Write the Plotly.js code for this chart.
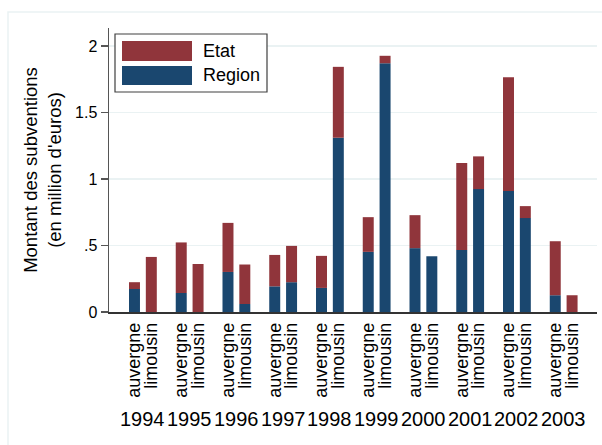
<!DOCTYPE html>
<html>
<head>
<meta charset="utf-8">
<script src="https://cdn.plot.ly/plotly-3.0.1.min.js"></script>
<style>html,body{margin:0;padding:0;background:#fff;}#chart{width:602px;height:445px;}</style>
</head>
<body>
<div id="chart"></div>
<script>
// ---- data (millions of euros) ----
const years = [1994, 1995, 1996, 1997, 1998, 1999, 2000, 2001, 2002, 2003];
const regions = ["auvergne", "limousin"];
const auvergneRegion = [0.173, 0.143, 0.301, 0.193, 0.181, 0.452, 0.480, 0.467, 0.909, 0.126];
const auvergneEtat   = [0.051, 0.380, 0.369, 0.236, 0.241, 0.261, 0.248, 0.653, 0.856, 0.406];
const limousinRegion = [0.000, 0.000, 0.060, 0.224, 1.310, 1.870, 0.419, 0.924, 0.706, 0.000];
const limousinEtat   = [0.414, 0.361, 0.297, 0.273, 0.533, 0.056, 0.000, 0.246, 0.090, 0.126];
const seriesNames = ["Etat", "Region"];

// ---- style ----
const COL_ETAT = "#90353b";
const COL_REGION = "#1a476f";
const FONT = "Arial, Liberation Sans, sans-serif";
const W = 602, H = 445;
const L = 109, R = 597, T = 28, B = 312;
const HALF = 0.18, BW = 0.235;
const px = x => (x - L) / (R - L);
const py = y => (B - y) / (B - T);

function barTrace(y, base, color, off, name) {
  const t = {
    type: "bar", x: years, y: y, name: name,
    marker: {color: color, line: {width: 0}},
    offset: off, width: BW, showlegend: false, hoverinfo: "skip"
  };
  if (base) t.base = base;
  return t;
}

const data = [
  barTrace(auvergneRegion, null, COL_REGION, -HALF - BW / 2, seriesNames[1]),
  barTrace(auvergneEtat, auvergneRegion, COL_ETAT, -HALF - BW / 2, seriesNames[0]),
  barTrace(limousinRegion, null, COL_REGION, HALF - BW / 2, seriesNames[1]),
  barTrace(limousinEtat, limousinRegion, COL_ETAT, HALF - BW / 2, seriesNames[0])
];

const tickvals = [], ticktext = [];
years.forEach(y => { tickvals.push(y - HALF, y + HALF); ticktext.push(regions[0], regions[1]); });

const annotations = years.map(y => ({
  x: y, xref: "x", y: py(419), yref: "paper", text: String(y), showarrow: false,
  xanchor: "center", yanchor: "middle", font: {family: FONT, size: 20, color: "#000"}
}));
annotations.push(
  {x: px(201), y: py(51), xref: "paper", yref: "paper", text: seriesNames[0], showarrow: false,
   xanchor: "left", yanchor: "middle", font: {family: FONT, size: 18, color: "#000"}},
  {x: px(201), y: py(75), xref: "paper", yref: "paper", text: seriesNames[1], showarrow: false,
   xanchor: "left", yanchor: "middle", font: {family: FONT, size: 18, color: "#000"}}
);

const shapes = [
  {type: "rect", xref: "paper", yref: "paper", x0: px(8), x1: px(620), y0: py(12), y1: py(470),
   line: {color: "#eaf2f3", width: 1.5}, fillcolor: "rgba(0,0,0,0)", layer: "below"},
  {type: "rect", xref: "paper", yref: "paper", x0: px(115), x1: px(267), y0: py(34), y1: py(92),
   line: {color: "#404040", width: 1.2}, fillcolor: "#ffffff"},
  {type: "rect", xref: "paper", yref: "paper", x0: px(122), x1: px(192), y0: py(41), y1: py(61),
   line: {width: 0}, fillcolor: COL_ETAT},
  {type: "rect", xref: "paper", yref: "paper", x0: px(122), x1: px(192), y0: py(66), y1: py(85),
   line: {width: 0}, fillcolor: COL_REGION}
];

const layout = {
  width: W, height: H,
  margin: {l: L, r: W - R, t: T, b: H - B, pad: 0},
  paper_bgcolor: "#ffffff", plot_bgcolor: "#ffffff",
  barmode: "overlay",
  showlegend: false,
  font: {family: FONT, color: "#000"},
  xaxis: {
    range: [1993.275, 2003.713], tickmode: "array", tickvals: tickvals, ticktext: ticktext,
    tickangle: -90, tickfont: {family: FONT, size: 18, color: "#000"},
    ticks: "outside", ticklen: 2, tickcolor: "rgba(0,0,0,0)",
    showline: true, linecolor: "#333333", linewidth: 1.5, showgrid: false, zeroline: false,
    fixedrange: true
  },
  yaxis: {
    range: [0, 2.135], tickmode: "array", tickvals: [0, 0.5, 1, 1.5, 2],
    ticktext: ["0", ".5", "1", "1.5", "2"],
    tickfont: {family: FONT, size: 16, color: "#000"},
    ticks: "outside", ticklen: 7, tickcolor: "#555555", tickwidth: 1.2,
    showline: true, linecolor: "#555555", linewidth: 1.5,
    showgrid: true, gridcolor: "#eaf2f3", gridwidth: 1.5, zeroline: false,
    title: {text: "Montant des subventions<br>(en million d'euros)", font: {family: FONT, size: 18.5, color: "#000"}, standoff: 8},
    fixedrange: true
  },
  annotations: annotations,
  shapes: shapes
};

Plotly.newPlot("chart", data, layout, {displayModeBar: false, staticPlot: true});
</script>
</body>
</html>
